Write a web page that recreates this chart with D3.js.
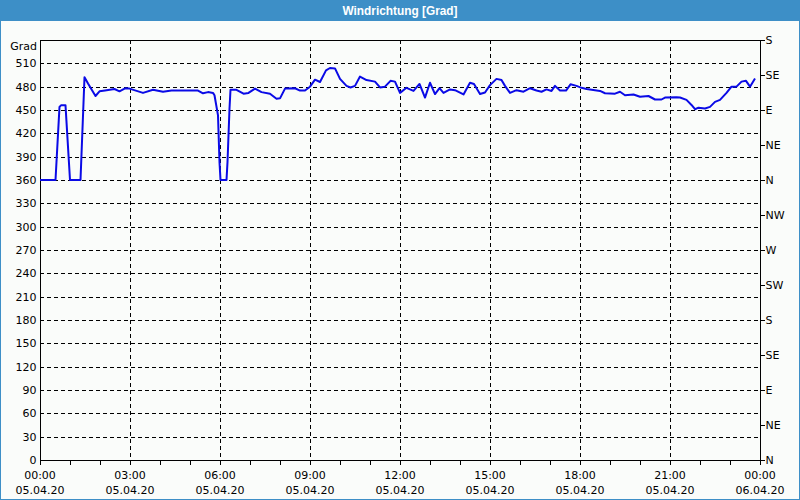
<!DOCTYPE html>
<html><head><meta charset="utf-8">
<script src="https://cdn.jsdelivr.net/npm/d3@7"></script>
<style>
html,body{margin:0;padding:0;background:#fff;}
svg{display:block;}
</style></head>
<body>
<svg id="chart" width="800" height="500"></svg>
<script>
// ---- data ----
const title = "Windrichtung [Grad]";
const unitLabel = "Grad";
// minutes after 05.04.20 00:00
const minutes = [0,31,39,42,51,60,81,89,96,111,119,130,149,159,171,179,206,226,246,263,289,316,326,336,346,349,356,359,361,373,375,379,381,393,407,417,430,443,460,473,480,490,510,520,530,540,550,560,572,580,590,600,613,621,630,640,653,670,680,690,701,710,720,733,747,759,770,780,790,799,807,820,830,847,860,868,880,890,900,913,923,930,940,953,967,980,993,1003,1013,1023,1030,1040,1052,1061,1073,1083,1093,1110,1120,1130,1150,1160,1170,1187,1200,1217,1230,1243,1250,1273,1280,1293,1303,1310,1317,1330,1340,1350,1360,1373,1383,1393,1403,1412,1420,1430];
const values = [360,360,454,456,456,360,360,492,484,468,474,475,477,474,478,477.5,472,476,473.5,475,475,475,471.5,473,472,469,443,383,360,360,383,452,476,476,471,472,477.5,473,471,464.5,465,477.5,478,475,475,480,489,486,501,504,503.5,490,481,479,481,493,488.5,486.5,479,480,487.5,486.5,472,478.5,474.5,483.5,466,485,470.5,478,472,476.5,475.5,470,485,483.5,470.5,472.5,482,490,488.5,481,472,475.5,473.5,478,475,473.5,476.5,474.5,481,475,475,483,481,478.5,477,475.5,474.5,471.5,471,473.5,469,470,467,468,463.5,463.5,466,466.5,466,463,456.5,451,453,452,454,460.5,463,472,480,480,486.5,487.5,480,490.5];
const leftTicks = [0,30,60,90,120,150,180,210,240,270,300,330,360,390,420,450,480,510];
const rightTickValues = [0,45,90,135,180,225,270,315,360,405,450,495,540];
const rightTickLabels = ["N","NE","E","SE","S","SW","W","NW","N","NE","E","SE","S"];
const xTimeLabels = ["00:00","03:00","06:00","09:00","12:00","15:00","18:00","21:00","00:00"];
const xDateLabels = ["05.04.20","05.04.20","05.04.20","05.04.20","05.04.20","05.04.20","05.04.20","05.04.20","06.04.20"];

// ---- layout ----
const W = 800, H = 500;
const L = 40, R = 760, T = 40, B = 460;
const blue = "#3d8fc7";
const font = "Tahoma, 'DejaVu Sans', sans-serif";

const svg = d3.select("#chart");
const start = new Date(Date.UTC(2020,3,5,0,0));
const end = new Date(Date.UTC(2020,3,6,0,0));
const x = d3.scaleUtc().domain([start,end]).range([L,R]);
const y = d3.scaleLinear().domain([0,540]).range([B,T]);
const toDate = m => new Date(start.getTime() + m*60000);

// background + frame
svg.append("rect").attr("x",0).attr("y",0).attr("width",W).attr("height",H).attr("fill","#fafcfa");
svg.append("rect").attr("x",0.5).attr("y",0.5).attr("width",W-1).attr("height",H-1).attr("fill","none").attr("stroke",blue);
svg.append("rect").attr("x",0).attr("y",0).attr("width",W).attr("height",21).attr("fill",blue);
svg.append("text").attr("x",W/2).attr("y",15).attr("text-anchor","middle")
  .attr("fill","#fff").attr("font-family","'Liberation Sans', Arial, sans-serif").attr("font-weight","bold")
  .attr("font-size",12).attr("textLength",115).attr("lengthAdjust","spacingAndGlyphs").text(title);

// grid
const xGridTicks = d3.utcHour.every(3).range(d3.utcHour.offset(start,3), end);
svg.append("g").selectAll("line").data(xGridTicks).join("line")
  .attr("x1",d=>Math.round(x(d))+0.5).attr("x2",d=>Math.round(x(d))+0.5)
  .attr("y1",T).attr("y2",B).attr("stroke","#000").attr("stroke-dasharray","4,3").attr("shape-rendering","crispEdges");
svg.append("g").selectAll("line").data(leftTicks.filter(v=>v>0)).join("line")
  .attr("x1",L).attr("x2",R).attr("y1",d=>Math.round(y(d))+0.5).attr("y2",d=>Math.round(y(d))+0.5)
  .attr("stroke","#000").attr("stroke-dasharray","4,3").attr("shape-rendering","crispEdges");

// left axis
const leftAxis = d3.axisLeft(y).tickValues(leftTicks).tickSize(0).tickPadding(4);
const gl = svg.append("g").attr("transform",`translate(${L+0.5},0)`).call(leftAxis);
gl.select(".domain").remove();
gl.selectAll("text").attr("font-family",font).attr("font-size",11).attr("fill","#000");

svg.append("text").attr("x",L-3).attr("y",T+10).attr("text-anchor","end")
  .attr("font-family",font).attr("font-size",11).attr("fill","#000").text(unitLabel);

// right axis
const rightAxis = d3.axisRight(y).tickValues(rightTickValues).tickSize(4).tickPadding(1)
  .tickFormat((d,i)=>rightTickLabels[i]);
const gr = svg.append("g").attr("transform",`translate(${R+0.5},0)`).call(rightAxis);
gr.select(".domain").remove();
gr.selectAll("line").attr("stroke","#000").attr("shape-rendering","crispEdges");
gr.selectAll("text").attr("font-family",font).attr("font-size",11).attr("fill","#000");

// bottom axis
const bottomAxis = d3.axisBottom(x).ticks(d3.utcHour.every(1)).tickSize(4).tickFormat("");
const gb = svg.append("g").attr("transform",`translate(0,${B+0.5})`).call(bottomAxis);
gb.select(".domain").remove();
gb.selectAll("line").attr("stroke","#000").attr("shape-rendering","crispEdges");

const labelTicks = d3.utcHour.every(3).range(start, d3.utcHour.offset(end,1));
const lbl = svg.append("g").selectAll("g").data(labelTicks).join("g")
  .attr("transform",d=>`translate(${x(d)},0)`);
lbl.append("text").attr("y",479).attr("text-anchor","middle").attr("font-family",font).attr("font-size",11)
  .text((d,i)=>xTimeLabels[i]);
lbl.append("text").attr("y",494).attr("text-anchor","middle").attr("font-family",font).attr("font-size",11)
  .text((d,i)=>xDateLabels[i]);

// plot frame
svg.append("rect").attr("x",L+0.5).attr("y",T+0.5).attr("width",R-L).attr("height",B-T)
  .attr("fill","none").attr("stroke","#000").attr("shape-rendering","crispEdges");

// data line
const line = d3.line().x((d,i)=>x(toDate(minutes[i]))).y(d=>y(d));
svg.append("path").datum(values).attr("d",line).attr("fill","none")
  .attr("stroke","#0a0ae6").attr("stroke-width",2).attr("stroke-linejoin","round");
</script>
</body></html>
